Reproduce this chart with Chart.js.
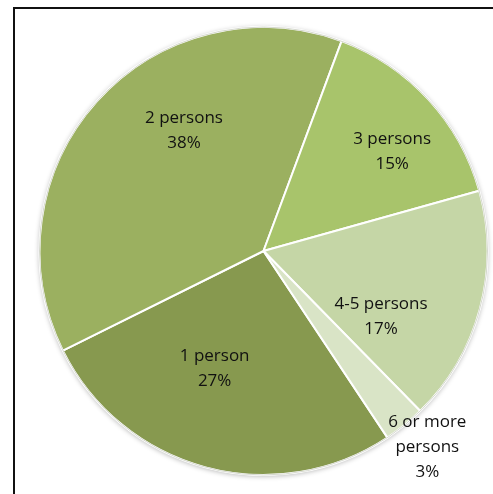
<!DOCTYPE html>
<html>
<head>
<meta charset="utf-8">
<script src="https://cdn.jsdelivr.net/npm/chart.js@4/dist/chart.umd.min.js"></script>
<style>
  html, body { margin: 0; padding: 0; background: #fff; }
  #wrap { position: relative; width: 493px; height: 494px; }
  #frame { position: absolute; left: 13px; top: 7px; right: -10px; bottom: -10px;
           border-left: 2px solid #111; border-top: 2px solid #111; pointer-events: none; }
  canvas { position: absolute; left: 0; top: 0; }
</style>
</head>
<body>
<div id="wrap">
  <canvas id="c" width="493" height="494"></canvas>
  <div id="frame"></div>
</div>
<script>
// ---- data ----
const categories = ['1 person', '2 persons', '3 persons', '4-5 persons', '6 or more persons'];
const shares = [27, 38, 15, 17, 3];

// ---- style ----
const sliceColors = ['#87994F', '#9BB060', '#A8C46B', '#C5D6A6', '#D9E4C6'];
const labelLines = [['1 person'], ['2 persons'], ['3 persons'], ['4-5 persons'], ['6 or more', 'persons']];
const labelAngleOffsetDeg = [7.5, 14.6, 5, 14, -0.9];
const labelRadiusFrac = [0.57, 0.645, 0.725, 0.6, 1.14];

const total = shares.reduce((a, b) => a + b, 0);

const rimPlugin = {
  id: 'rim',
  beforeDatasetsDraw(chart) {
    const arc = chart.getDatasetMeta(0).data[0];
    if (!arc) return;
    const ctx = chart.ctx;
    ctx.save();
    ctx.beginPath();
    ctx.arc(arc.x, arc.y, arc.outerRadius + 0.5, 0, Math.PI * 2);
    ctx.fillStyle = '#fff';
    ctx.shadowColor = 'rgba(0,0,0,0.28)';
    ctx.shadowBlur = 5;
    ctx.shadowOffsetX = 0;
    ctx.shadowOffsetY = 1;
    ctx.fill();
    ctx.restore();
  },
  afterDatasetsDraw(chart) {
    const arc = chart.getDatasetMeta(0).data[0];
    if (!arc) return;
    const ctx = chart.ctx;
    ctx.save();
    ctx.beginPath();
    ctx.arc(arc.x, arc.y, arc.outerRadius, 0, Math.PI * 2);
    ctx.strokeStyle = '#d6d9cf';
    ctx.lineWidth = 1;
    ctx.stroke();
    ctx.restore();
  }
};

const labelPlugin = {
  id: 'sliceLabels',
  afterDraw(chart) {
    const meta = chart.getDatasetMeta(0);
    const ctx = chart.ctx;
    ctx.save();
    ctx.font = '17px "Open Sans", sans-serif';
    ctx.fillStyle = '#111111';
    ctx.textAlign = 'center';
    ctx.textBaseline = 'middle';
    meta.data.forEach((arc, i) => {
      const p = arc.getProps(['x', 'y', 'startAngle', 'endAngle', 'outerRadius'], true);
      const a = (p.startAngle + p.endAngle) / 2 + labelAngleOffsetDeg[i] * Math.PI / 180;
      const r = p.outerRadius * labelRadiusFrac[i];
      const cx = p.x + r * Math.cos(a);
      const cy = p.y + r * Math.sin(a);
      const pct = Math.round(shares[i] / total * 100) + '%';
      const lines = labelLines[i].concat([pct]);
      const lh = 25;
      lines.forEach((t, k) => {
        ctx.fillText(t, cx, cy + (k - (lines.length - 1) / 2) * lh);
      });
    });
    ctx.restore();
  }
};

new Chart(document.getElementById('c'), {
  type: 'pie',
  data: {
    labels: categories,
    datasets: [{
      data: shares,
      backgroundColor: sliceColors,
      borderColor: '#ffffff',
      borderWidth: 2
    }]
  },
  options: {
    responsive: false,
    animation: false,
    rotation: 146.4,
    radius: 224,
    layout: { padding: { left: 39, right: 5, top: 27, bottom: 19 } },
    plugins: {
      legend: { display: false },
      tooltip: { enabled: false }
    }
  },
  plugins: [rimPlugin, labelPlugin]
});
</script>
</body>
</html>
